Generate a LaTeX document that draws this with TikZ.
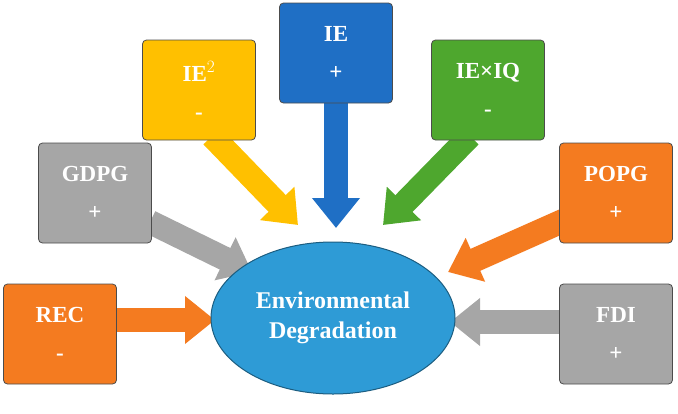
\documentclass[tikz,border=0pt]{standalone}
\usepackage{fontspec}
\setmainfont{Liberation Serif}
\usetikzlibrary{arrows.meta,shapes.geometric}
\definecolor{cor}{HTML}{F47B20}
\definecolor{cgr}{HTML}{A6A6A6}
\definecolor{cye}{HTML}{FFC000}
\definecolor{cbl}{HTML}{1F6FC5}
\definecolor{cgn}{HTML}{4EA72E}
\definecolor{cel}{HTML}{2E9BD6}
\tikzset{
 box/.style={draw=black!70, line width=0.8pt, rounded corners=4pt, minimum width=113pt, minimum height=100pt, fill=#1, text=white, font=\bfseries\fontsize{23}{32}\selectfont, align=center, inner sep=0pt},
 barrow/.style={line width=24pt, draw=#1, -{Triangle[length=30pt,width=46pt]}},
}
\begin{document}
\begin{tikzpicture}[x=1pt,y=-1pt]
\useasboundingbox (0,0) rectangle (678,413);
\coordinate (t1) at (115,320); \coordinate (h1) at (215,320);
\coordinate (t2) at (150,222); \coordinate (h2) at (252,272);
\coordinate (t3) at (212,136); \coordinate (h3) at (298,225);
\coordinate (t4) at (336,100); \coordinate (h4) at (336,228);
\coordinate (t5) at (470,136); \coordinate (h5) at (383,225);
\coordinate (t6) at (565,220); \coordinate (h6) at (448,272);
\coordinate (t7) at (562,322); \coordinate (h7) at (450,322);
\draw[barrow=cor] (t1) -- (h1);
\draw[barrow=cgr] (t2) -- (h2);
\draw[barrow=cye] (t3) -- (h3);
\draw[barrow=cbl] (t4) -- (h4);
\draw[barrow=cgn] (t5) -- (h5);
\draw[barrow=cor] (t6) -- (h6);
\draw[barrow=cgr] (t7) -- (h7);
\node[box=cor] (rec) at (60,334) {REC\\[6pt]-};
\node[box=cgr] (gdpg) at (95,193) {GDPG\\[6pt]+};
\node[box=cye] (ie2) at (199,90) {IE$^{2}$\\[6pt]-};
\node[box=cbl] (ie) at (336,53) {IE\\[6pt]+};
\node[box=cgn] (ieiq) at (488,90) {IE×IQ\\[6pt]-};
\node[box=cor] (popg) at (616,193) {POPG\\[6pt]+};
\node[box=cgr] (fdi) at (616,334) {FDI\\[6pt]+};
\node[ellipse, draw=cel!60!black, line width=1pt, fill=cel, minimum width=244pt, minimum height=152pt, text=white, font=\bfseries\fontsize{24}{30}\selectfont, align=center] (env) at (333,318) {Environmental\\Degradation};
\end{tikzpicture}
\end{document}
